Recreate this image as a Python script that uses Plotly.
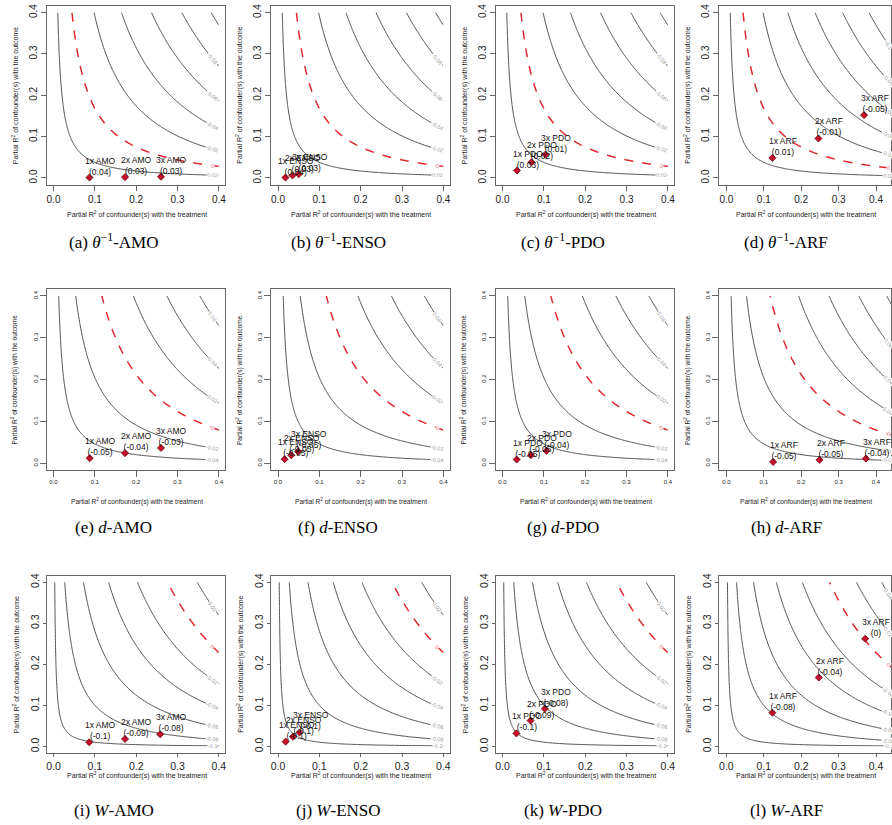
import numpy as np
import plotly.graph_objects as go

W, H = 892, 825

# ------------------------------------------------------------------
# Data
# ------------------------------------------------------------------
row_outcome = ["<i>θ</i><sup>−1</sup>", "<i>d</i>", "<i>W</i>"]
benchmark_names = ["AMO", "ENSO", "PDO", "ARF"]
panel_letters = ["a", "b", "c", "d", "e", "f", "g", "h", "i", "j", "k", "l"]

# unadjusted estimate and bias scale (se * sqrt(df)) for each row (outcome)
row_estimate = [0.038, -0.058, -0.1097]
row_bias_scale = [0.278, 0.252, 0.281]

# benchmark bounds (1x, 2x, 3x) for each panel
bench_r2dz = [
    [0.087, 0.173, 0.260], [0.018, 0.035, 0.050], [0.035, 0.070, 0.104], [0.123, 0.246, 0.368],
    [0.0875, 0.173, 0.260], [0.016, 0.032, 0.0488], [0.0344, 0.0688, 0.1064], [0.125, 0.249, 0.373],
    [0.0864, 0.173, 0.258], [0.0184, 0.036, 0.052], [0.0336, 0.068, 0.1024], [0.123, 0.247, 0.371],
]
bench_r2yz = [
    [0.001, 0.002, 0.003], [0.001, 0.006, 0.009], [0.018, 0.038, 0.0565], [0.0485, 0.0955, 0.152],
    [0.012, 0.024, 0.0365], [0.0096, 0.019, 0.028], [0.0088, 0.019, 0.0295], [0.003, 0.008, 0.011],
    [0.0105, 0.0185, 0.030], [0.012, 0.024, 0.0344], [0.032, 0.0632, 0.092], [0.0824, 0.168, 0.2624],
]
bench_adjusted = [
    ["0.04", "0.03", "0.03"], ["0.04", "0.03", "0.03"], ["0.03", "0.02", "0.01"], ["0.01", "-0.01", "-0.05"],
    ["-0.05", "-0.04", "-0.03"], ["-0.05", "-0.05", "-0.05"], ["-0.05", "-0.05", "-0.04"], ["-0.05", "-0.05", "-0.04"],
    ["-0.1", "-0.09", "-0.08"], ["-0.1", "-0.1", "-0.1"], ["-0.1", "-0.09", "-0.08"], ["-0.08", "-0.04", "0"],
]
multipliers = ["1x", "2x", "3x"]
tick_values = [0.0, 0.1, 0.2, 0.3, 0.4]
tick_labels = ["0.0", "0.1", "0.2", "0.3", "0.4"]
contour_step = 0.02
threshold = 0.0

# ------------------------------------------------------------------
# Layout geometry (pixels)
# ------------------------------------------------------------------
col_left = [46, 271, 496, 720]
col_right = [225, 450, 675, 892]
col_xrange = [[-0.016, 0.416], [-0.016, 0.416], [-0.016, 0.416], [-0.0187, 0.44]]
col_grid_max = [0.4, 0.4, 0.4, 0.45]
col_label_x = [0.385, 0.385, 0.385, 0.433]
row_top = [4, 288, 575]
row_bottom = [183, 469, 753]
y_range = [-0.016, 0.416]
row_tick_size = [10, 6, 10.5]
row_ticklen = [5, 6, 3]
row_title_size = [7, 6.6, 7]
row_xtitle_y = [213, 501, 775]
row_ytitle_x = [14, 14, 15]
row_caption_y = [240, 527, 810]


def px(x):
    return x / W


def py(y):
    return 1 - y / H


def grid(xmax):
    return np.unique(np.concatenate([
        np.linspace(0, 0.01, 21),
        np.linspace(0.01, 0.05, 41),
        np.linspace(0.05, xmax, 100),
    ]))


fig = go.Figure()
annotations = []
layout_axes = {}

line_scale = [[0, "#3a3a3a"], [1, "#3a3a3a"]]

for r in range(3):
    est = row_estimate[r]
    k = row_bias_scale[r]
    sgn = -1.0 if est > 0 else 1.0
    for c in range(4):
        i = r * 4 + c
        n = i + 1
        xa = "x" if n == 1 else f"x{n}"
        ya = "y" if n == 1 else f"y{n}"

        gx = grid(col_grid_max[c])
        gy = grid(0.4)
        X, Y = np.meshgrid(gx, gy)
        Z = est + sgn * k * np.sqrt(X * Y / (1 - X))

        common = dict(x=gx, y=gy, z=Z, xaxis=xa, yaxis=ya, showscale=False,
                      hoverinfo="skip")
        fig.add_trace(go.Contour(**common, autocontour=False,
                                 contours=dict(start=-0.3, end=-0.019, size=contour_step,
                                               coloring="lines", showlabels=False),
                                 colorscale=line_scale,
                                 line=dict(width=0.9, smoothing=1)))
        fig.add_trace(go.Contour(**common, autocontour=False,
                                 contours=dict(start=0.02, end=0.3, size=contour_step,
                                               coloring="lines", showlabels=False),
                                 colorscale=line_scale,
                                 line=dict(width=0.9, smoothing=1)))
        fig.add_trace(go.Contour(**common,
                                 contours=dict(type="constraint", operation="=", value=threshold),
                                 fillcolor="rgba(0,0,0,0)",
                                 line=dict(color="#e0282e", width=1.5, dash="dash", smoothing=1)))

        # contour labels near the right edge
        xr = col_xrange[c]
        sx = (col_right[c] - col_left[c]) / (xr[1] - xr[0])
        sy = (row_bottom[r] - row_top[r]) / (y_range[1] - y_range[0])
        xl = col_label_x[c]
        for v in np.round(np.arange(-0.3, 0.301, contour_step), 2):
            s = (v - est) / (sgn * k)
            if s <= 0:
                continue
            yl = s * s * (1 - xl) / xl
            if yl > 0.375:
                continue
            ang = np.degrees(np.arctan(s * s / xl ** 2 * sy / sx))
            is_thr = abs(v - threshold) < 1e-9
            annotations.append(dict(
                x=xl, y=yl, xref=xa, yref=ya, text=f"{v:g}", showarrow=False,
                textangle=ang, bgcolor="white", borderpad=0,
                font=dict(family="Liberation Sans", size=5.5,
                          color="#e87070" if is_thr else "#9a9a9a"),
            ))

        # benchmark points
        fig.add_trace(go.Scatter(
            x=bench_r2dz[i], y=bench_r2yz[i], xaxis=xa, yaxis=ya, mode="markers",
            marker=dict(symbol="diamond", size=5.5, color="#c8102e",
                        line=dict(color="#5a0000", width=0.7)),
            hoverinfo="skip", showlegend=False))
        for j in range(3):
            annotations.append(dict(
                x=bench_r2dz[i][j], y=bench_r2yz[i][j], xref=xa, yref=ya,
                text=f"{multipliers[j]} {benchmark_names[c]}<br>({bench_adjusted[i][j]})",
                showarrow=False, xanchor="center", yanchor="bottom", xshift=11, yshift=-1,
                font=dict(family="Liberation Sans", size=8.5, color="#111")))

        tickfont = dict(family="Liberation Sans", size=row_tick_size[r], color="#222")
        layout_axes["xaxis" if n == 1 else f"xaxis{n}"] = dict(
            domain=[px(col_left[c]), px(col_right[c])], range=xr, anchor=ya,
            showline=True, mirror=True, linecolor="#666", linewidth=1,
            ticks="outside", ticklen=row_ticklen[r], tickcolor="#666",
            tickvals=tick_values, ticktext=tick_labels, tickfont=tickfont,
            showgrid=False, zeroline=False, fixedrange=True)
        layout_axes["yaxis" if n == 1 else f"yaxis{n}"] = dict(
            domain=[py(row_bottom[r]), py(row_top[r])], range=y_range, anchor=xa,
            showline=True, mirror=True, linecolor="#666", linewidth=1,
            ticks="outside", ticklen=row_ticklen[r], tickcolor="#666",
            tickvals=tick_values, ticktext=tick_labels, tickfont=tickfont, tickangle=-90,
            showgrid=False, zeroline=False, fixedrange=True)

        # axis titles
        tf = dict(family="Liberation Sans", size=row_title_size[r], color="#222")
        annotations.append(dict(
            x=px((col_left[c] + min(col_right[c], col_left[c] + 179)) / 2 + 0.5),
            y=py(row_xtitle_y[r]), xref="paper", yref="paper",
            text="Partial R<sup>2</sup> of confounder(s) with the treatment",
            showarrow=False, font=tf, xanchor="center", yanchor="middle"))
        annotations.append(dict(
            x=px(col_left[c] - 46 + row_ytitle_x[r]), y=py((row_top[r] + row_bottom[r]) / 2),
            xref="paper", yref="paper", textangle=-90,
            text="Partial R<sup>2</sup> of confounder(s) with the outcome",
            showarrow=False, font=tf, xanchor="center", yanchor="middle"))
        # caption
        annotations.append(dict(
            x=px(col_left[c] + 67), y=py(row_caption_y[r]), xref="paper", yref="paper",
            text=f"({panel_letters[i]}) {row_outcome[r]}-{benchmark_names[c]}",
            showarrow=False, xanchor="center", yanchor="middle",
            font=dict(family="Liberation Serif", size=17, color="#000")))

fig.update_layout(
    width=W, height=H, margin=dict(l=0, r=0, t=0, b=0),
    paper_bgcolor="white", plot_bgcolor="white", showlegend=False,
    annotations=annotations, **layout_axes)

fig.write_html("out.html", config={"displayModeBar": False},
               post_script="document.body.style.margin='0';document.body.style.overflow='hidden';")
